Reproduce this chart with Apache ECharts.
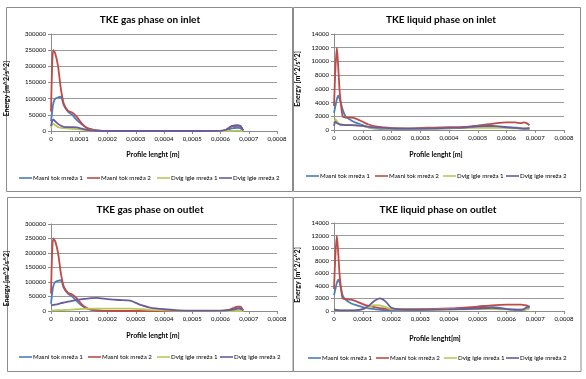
<!DOCTYPE html>
<html>
<head>
<meta charset="utf-8">
<script src="https://cdn.jsdelivr.net/npm/echarts@6/dist/echarts.min.js"></script>
<style>
html,body{margin:0;padding:0;background:#fff;}
#c{width:586px;height:379px;}
</style>
</head>
<body>
<div id="c"></div>
<script>
// ---- Data ----
const seriesNames = ['Masni tok mreža 1', 'Masni tok mreža 2', 'Dvig igle mreža 1', 'Dvig igle mreža 2'];
const panelTitles = ['TKE gas phase on inlet', 'TKE liquid phase on inlet', 'TKE gas phase on outlet', 'TKE liquid phase on outlet'];
const xNames = ['Profile lenght [m]', 'Profile lenght [m]', 'Profile lenght [m]', 'Profile lenght[m]'];
const yName = 'Energy [m^2/s^2]';
const xTicks = [0, 0.0001, 0.0002, 0.0003, 0.0004, 0.0005, 0.0006, 0.0007, 0.0008];
const yTicksGas = [0, 50000, 100000, 150000, 200000, 250000, 300000];
const yTicksLiquid = [0, 2000, 4000, 6000, 8000, 10000, 12000, 14000];

// Panel 1: gas phase on inlet
const x1 = [0, 0.000004, 0.000008, 0.000015, 0.000025, 0.000035, 0.000045, 0.00006, 0.000075, 0.00009, 0.00011, 0.00013, 0.00016, 0.0002, 0.0003, 0.0004, 0.0005, 0.0006, 0.00062, 0.00064, 0.00066, 0.00067, 0.00068];
const gasInMasni1 = [30000, 60000, 85000, 100000, 104000, 106000, 80000, 60000, 50000, 35000, 20000, 8000, 2000, 0, 0, 0, 0, 500, 2000, 8000, 10000, 9000, 1000];
const gasInMasni2 = [60000, 200000, 250000, 240000, 200000, 130000, 85000, 62000, 57000, 45000, 22000, 8000, 2000, 500, 0, 0, 0, 500, 4000, 15000, 17000, 15000, 2000];
const gasInDvig1 = [10000, 20000, 22000, 18000, 12000, 10000, 9000, 8000, 7000, 6000, 4000, 1500, 300, 0, 0, 0, 0, 0, 0, 500, 1000, 500, 0];
const gasInDvig2 = [15000, 30000, 36000, 30000, 22000, 17000, 13000, 12000, 12000, 11000, 7000, 3000, 800, 0, 0, 0, 0, 500, 4000, 15000, 17000, 16000, 2000];

// Panel 2: liquid phase on inlet
const x2 = [0, 0.000005, 0.00001, 0.000015, 0.00002, 0.00003, 0.00004, 0.00006, 0.00008, 0.0001, 0.00012, 0.00015, 0.0002, 0.00025, 0.0003, 0.00035, 0.0004, 0.00045, 0.0005, 0.00055, 0.0006, 0.00063, 0.00065, 0.00066, 0.00067, 0.00068];
const liqInMasni1 = [2500, 3500, 4500, 5000, 4500, 3000, 2000, 1400, 1000, 700, 400, 200, 150, 150, 200, 200, 250, 300, 450, 500, 400, 350, 300, 200, 150, 100];
const liqInMasni2 = [3500, 9000, 12000, 9000, 5500, 2000, 1800, 1800, 1600, 1200, 800, 500, 300, 250, 300, 350, 400, 450, 650, 900, 1100, 1100, 1000, 1100, 1000, 700];
const liqInDvig1 = [1000, 1600, 1300, 1000, 900, 800, 750, 700, 700, 600, 400, 300, 200, 200, 200, 200, 250, 300, 300, 300, 300, 250, 250, 250, 200, 200];
const liqInDvig2 = [600, 1200, 1000, 900, 800, 750, 700, 700, 650, 600, 450, 350, 250, 200, 200, 250, 300, 350, 550, 600, 400, 300, 200, 200, 250, 300];

// Panel 3: gas phase on outlet
const x3 = [0, 0.000004, 0.000008, 0.000015, 0.000025, 0.000035, 0.000045, 0.00006, 0.000075, 0.00009, 0.00011, 0.00013, 0.00016, 0.0002, 0.00024, 0.00028, 0.00032, 0.00035, 0.0004, 0.00045, 0.0005, 0.0006, 0.00063, 0.00065, 0.00066, 0.00067, 0.00068];
const gasOutMasni1 = [25000, 60000, 85000, 100000, 104000, 106000, 80000, 60000, 50000, 35000, 18000, 7000, 2000, 0, 0, 0, 0, 0, 0, 0, 0, 500, 2000, 6000, 8000, 7000, 1000];
const gasOutMasni2 = [60000, 200000, 250000, 240000, 200000, 130000, 85000, 62000, 57000, 45000, 22000, 8000, 2000, 500, 0, 0, 0, 0, 0, 0, 0, 500, 4000, 12000, 15000, 15000, 2000];
const gasOutDvig1 = [2000, 2000, 2000, 2500, 3000, 3000, 3500, 4000, 5000, 6000, 7000, 8000, 8000, 8000, 8000, 8000, 6000, 4000, 2000, 800, 300, 0, 0, 0, 0, 0, 0];
const gasOutDvig2 = [19000, 20000, 21000, 22000, 24000, 27000, 29000, 32000, 35000, 38000, 41000, 43000, 45000, 41000, 38000, 36000, 20000, 12000, 6000, 2500, 1000, 1000, 3000, 6000, 9000, 10000, 2000];

// Panel 4: liquid phase on outlet
const x4 = [0, 0.000005, 0.00001, 0.000015, 0.00002, 0.00003, 0.00004, 0.00006, 0.00008, 0.0001, 0.00012, 0.00014, 0.00016, 0.00018, 0.0002, 0.00025, 0.0003, 0.0004, 0.0005, 0.00055, 0.0006, 0.00063, 0.00065, 0.00066, 0.00067, 0.00068];
const liqOutMasni1 = [2500, 3500, 4500, 5000, 4500, 2500, 1800, 1200, 900, 600, 400, 300, 200, 150, 150, 150, 200, 300, 500, 600, 350, 200, 100, 150, 300, 600];
const liqOutMasni2 = [3500, 9000, 12000, 9000, 5500, 2000, 1900, 1800, 1500, 1100, 800, 600, 450, 350, 300, 300, 300, 400, 700, 900, 1000, 1000, 1000, 950, 900, 600];
const liqOutDvig1 = [100, 100, 100, 100, 100, 100, 100, 100, 150, 300, 600, 950, 900, 600, 300, 200, 200, 250, 300, 300, 250, 200, 200, 200, 250, 300];
const liqOutDvig2 = [200, 200, 150, 150, 100, 100, 100, 100, 150, 300, 800, 1600, 2000, 1500, 500, 200, 200, 250, 400, 500, 300, 200, 200, 300, 600, 800];

const colors = ['#4A7EBB', '#BE4B48', '#B9C95A', '#6B5A9E'];

// ---- Layout ----
const FONT = 'Lato, "Liberation Sans", sans-serif';
const panels = [
  {xs: x1, ys: [gasInMasni1, gasInMasni2, gasInDvig1, gasInDvig2], yTicks: yTicksGas,
   grid: {left: 51, top: 34, width: 226, height: 97}, titleX: 150, titleY: 15,
   xNameGap: 20, xNamePad: [0, 22, 0, 0], yNameGap: 41, yNamePad: [0, 12, 0, 0],
   legendXs: [19, 87, 157, 219], legendY: 175, box: [6.5, 7.5, 286, 184]},
  {xs: x2, ys: [liqInMasni1, liqInMasni2, liqInDvig1, liqInDvig2], yTicks: yTicksLiquid,
   grid: {left: 334, top: 34, width: 230, height: 96}, titleX: 441, titleY: 15,
   xNameGap: 21, xNamePad: [0, 26, 0, 0], yNameGap: 33, yNamePad: [0, 0, 0, 6],
   legendXs: [306, 375, 443, 506], legendY: 173, box: [293.5, 7.5, 287, 184]},
  {xs: x3, ys: [gasOutMasni1, gasOutMasni2, gasOutDvig1, gasOutDvig2], yTicks: yTicksGas,
   grid: {left: 51, top: 224, width: 226, height: 87}, titleX: 150, titleY: 205,
   xNameGap: 21, xNamePad: [0, 22, 0, 0], yNameGap: 41, yNamePad: [0, 22, 0, 0],
   legendXs: [19, 88, 157, 220], legendY: 354, box: [7.5, 197.5, 285.5, 174]},
  {xs: x4, ys: [liqOutMasni1, liqOutMasni2, liqOutDvig1, liqOutDvig2], yTicks: yTicksLiquid,
   grid: {left: 334, top: 223, width: 230, height: 88}, titleX: 438, titleY: 205,
   xNameGap: 24, xNamePad: [0, 28, 0, 0], yNameGap: 33, yNamePad: [0, 16, 0, 0],
   legendXs: [308, 376, 444, 506], legendY: 355, box: [293.5, 197.5, 287.5, 174]}
];

const fmtX = v => v === 0 ? '0' : v.toFixed(4).replace('.', ',');

const option = {
  animation: false,
  backgroundColor: '#fff',
  color: colors,
  title: [], grid: [], xAxis: [], yAxis: [], legend: [], series: [],
  graphic: []
};

panels.forEach((p, i) => {
  option.graphic.push({
    type: 'rect', shape: {x: p.box[0], y: p.box[1], width: p.box[2], height: p.box[3]},
    style: {fill: 'none', stroke: '#8c8c8c', lineWidth: 1}, z: -1
  });
  option.title.push({
    text: panelTitles[i], left: p.titleX, top: p.titleY, textAlign: 'center', padding: 0,
    textStyle: {fontFamily: FONT, fontSize: 10, fontWeight: 'bold', color: '#000'}
  });
  option.grid.push(Object.assign({containLabel: false}, p.grid));
  const yt = p.yTicks;
  option.xAxis.push({
    type: 'value', gridIndex: i, min: xTicks[0], max: xTicks[xTicks.length - 1], interval: xTicks[1] - xTicks[0],
    name: xNames[i], nameLocation: 'middle', nameGap: p.xNameGap,
    nameTextStyle: {fontFamily: FONT, fontSize: 7, fontWeight: 'bold', color: '#000', padding: p.xNamePad},
    axisLine: {show: true, onZero: false, lineStyle: {color: '#8c8c8c', width: 1}},
    axisTick: {show: true, length: 3, lineStyle: {color: '#8c8c8c'}},
    axisLabel: {fontFamily: FONT, fontSize: 6, color: '#000', margin: 5, formatter: fmtX},
    splitLine: {show: false}
  });
  option.yAxis.push({
    type: 'value', gridIndex: i, min: yt[0], max: yt[yt.length - 1], interval: yt[1] - yt[0],
    name: yName, nameLocation: 'middle', nameRotate: 90, nameGap: p.yNameGap,
    nameTextStyle: {fontFamily: FONT, fontSize: 7, fontWeight: 'bold', color: '#000', padding: p.yNamePad},
    axisLine: {show: true, lineStyle: {color: '#8c8c8c', width: 1}},
    axisTick: {show: true, length: 3, lineStyle: {color: '#8c8c8c'}},
    axisLabel: {fontFamily: FONT, fontSize: 6, color: '#000', margin: 5, formatter: v => String(v)},
    splitLine: {show: true, lineStyle: {color: '#9a9a9a', width: 1}}
  });
  seriesNames.forEach((name, k) => {
    option.legend.push({
      data: [name], left: p.legendXs[k], top: p.legendY, padding: 0,
      icon: 'rect', itemWidth: 13, itemHeight: 1.6, itemGap: 0,
      textStyle: {fontFamily: FONT, fontSize: 6.2, color: '#000', padding: [0, 0, 0, -4]}
    });
    option.series.push({
      name: name, type: 'line', xAxisIndex: i, yAxisIndex: i,
      data: p.xs.map((x, j) => [x, p.ys[k][j]]),
      smooth: 0.25, showSymbol: false, symbol: 'none',
      lineStyle: {width: 1.8, color: colors[k]}, itemStyle: {color: colors[k]}
    });
  });
});

const chart = echarts.init(document.getElementById('c'), null, {renderer: 'canvas'});
chart.setOption(option);
</script>
</body>
</html>
